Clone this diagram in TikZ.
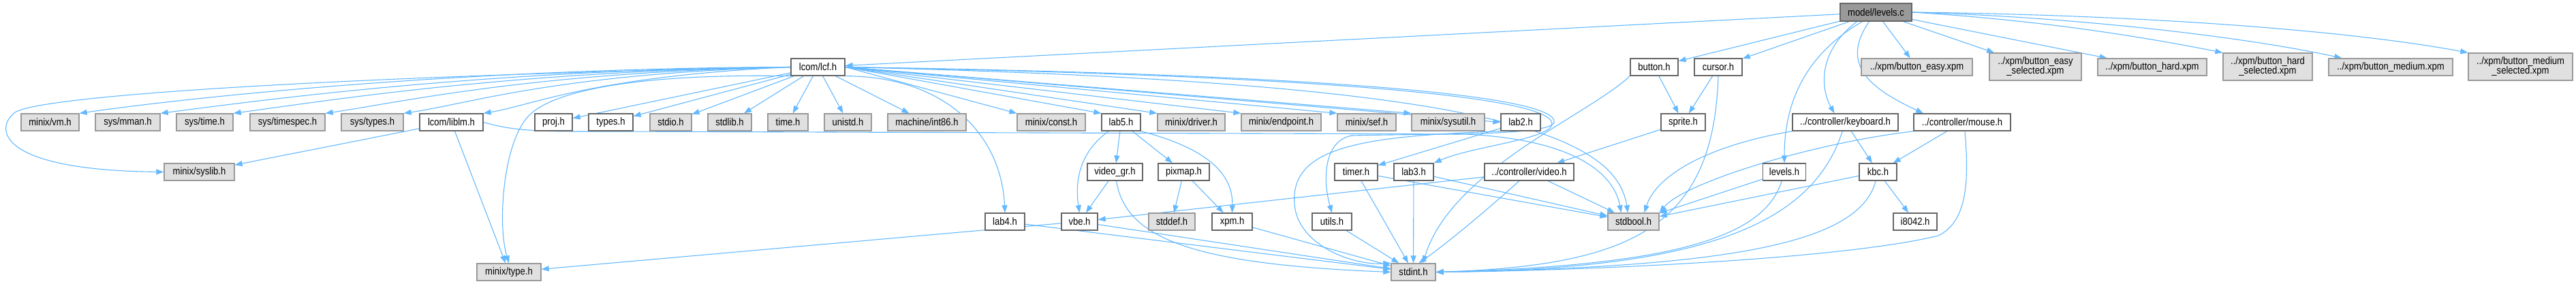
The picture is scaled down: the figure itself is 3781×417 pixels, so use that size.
\documentclass[tikz,border=0pt]{standalone}
\usepackage{fontspec}
\setmainfont{Liberation Sans}[FakeStretch=0.87]
\usetikzlibrary{arrows.meta}
\definecolor{edgec}{HTML}{63B8FF}
\definecolor{grayfill}{HTML}{E0E0E0}
\definecolor{grayline}{HTML}{999999}
\definecolor{darkline}{HTML}{666666}
\definecolor{rootfill}{HTML}{999999}
\pgfdeclarelayer{background}
\pgfsetlayers{background,main}
\newcommand{\lblfont}{\fontsize{15}{14}\selectfont}
\tikzset{
  box/.style={rectangle, inner sep=0pt, minimum height=25pt, line width=1.3pt, align=center, font=\lblfont},
  wb/.style={box, draw=darkline, fill=white},
  gb/.style={box, draw=grayline, fill=grayfill},
  rb/.style={box, draw=darkline, fill=rootfill, minimum height=26pt},
  dep/.style={draw=edgec, line width=1.1pt, -{Triangle[length=11pt,width=8pt]}},
}
\begin{document}
\begin{tikzpicture}[x=1pt,y=-1pt]
\useasboundingbox (0,0) rectangle (3781,417);
% rank 0
\node[rb, minimum width=105pt] (root) at (2753.5,18) {model/levels.c};
% rank 1
\node[wb, minimum width=79pt] (lcf) at (1200.5,98.5) {lcom/lcf.h};
\node[wb, minimum width=70pt] (button) at (2428,98.5) {button.h};
\node[wb, minimum width=70pt] (cursor) at (2522,98.5) {cursor.h};
\node[gb, minimum width=163pt] (easy) at (2813.5,98.5) {../xpm/button\_easy.xpm};
\node[gb, minimum width=135pt, minimum height=40pt] (easysel) at (2987.5,98) {../xpm/button\_easy\\\_selected.xpm};
\node[gb, minimum width=160pt] (hard) at (3159,98.5) {../xpm/button\_hard.xpm};
\node[gb, minimum width=131pt, minimum height=40pt] (hardsel) at (3328.5,98) {../xpm/button\_hard\\\_selected.xpm};
\node[gb, minimum width=182pt] (medium) at (3509,98.5) {../xpm/button\_medium.xpm};
\node[gb, minimum width=153pt, minimum height=40pt] (medsel) at (3699.5,98) {../xpm/button\_medium\\\_selected.xpm};
% rank 2
\node[gb, minimum width=85pt] (vm) at (73.5,179.5) {minix/vm.h};
\node[gb, minimum width=95pt] (mman) at (187.5,179.5) {sys/mman.h};
\node[gb, minimum width=83pt] (systime) at (300.5,179.5) {sys/time.h};
\node[gb, minimum width=110pt] (timespec) at (422,179.5) {sys/timespec.h};
\node[gb, minimum width=91pt] (systypes) at (546.5,179.5) {sys/types.h};
\node[wb, minimum width=93pt] (liblm) at (662.5,179.5) {lcom/liblm.h};
\node[wb, minimum width=55pt] (proj) at (812.5,179.5) {proj.h};
\node[wb, minimum width=65pt] (types) at (896.5,179.5) {types.h};
\node[gb, minimum width=61pt] (stdio) at (984.5,179.5) {stdio.h};
\node[gb, minimum width=64pt] (stdlib) at (1071,179.5) {stdlib.h};
\node[gb, minimum width=59pt] (time) at (1156.5,179.5) {time.h};
\node[gb, minimum width=69pt] (unistd) at (1244.5,179.5) {unistd.h};
\node[gb, minimum width=115pt] (int86) at (1360.5,179.5) {machine/int86.h};
\node[gb, minimum width=100pt] (const) at (1543,179.5) {minix/const.h};
\node[wb, minimum width=57pt] (lab5) at (1645.5,179.5) {lab5.h};
\node[gb, minimum width=99pt] (driver) at (1748.5,179.5) {minix/driver.h};
\node[gb, minimum width=117pt] (endpoint) at (1880.5,179.5) {minix/endpoint.h};
\node[gb, minimum width=86pt] (sef) at (2006,179.5) {minix/sef.h};
\node[gb, minimum width=107pt] (sysutil) at (2125.5,179.5) {minix/sysutil.h};
\node[wb, minimum width=58pt] (lab2) at (2232,179.5) {lab2.h};
\node[wb, minimum width=65pt] (sprite) at (2470.5,179.5) {sprite.h};
\node[wb, minimum width=155pt] (kbd) at (2708.5,179.5) {../controller/keyboard.h};
\node[wb, minimum width=142pt] (mouse) at (2880,179.5) {../controller/mouse.h};
% rank 3
\node[gb, minimum width=103pt] (syslib) at (292.5,252.5) {minix/syslib.h};
\node[wb, minimum width=81pt] (videogr) at (1636.5,252.5) {video\_gr.h};
\node[wb, minimum width=75pt] (pixmap) at (1737.5,252.5) {pixmap.h};
\node[wb, minimum width=63pt] (timer) at (1990.5,252.5) {timer.h};
\node[wb, minimum width=58pt] (lab3) at (2075,252.5) {lab3.h};
\node[wb, minimum width=131pt] (vid) at (2244.5,252.5) {../controller/video.h};
\node[wb, minimum width=63pt] (lvh) at (2619,252.5) {levels.h};
\node[wb, minimum width=55pt] (kbc) at (2756.5,252.5) {kbc.h};
% rank 4
\node[wb, minimum width=58pt] (lab4) at (1475,325.5) {lab4.h};
\node[wb, minimum width=53pt] (vbe) at (1584.5,325.5) {vbe.h};
\node[gb, minimum width=68pt] (stddef) at (1720,325.5) {stddef.h};
\node[wb, minimum width=59pt] (xpm) at (1808.5,325.5) {xpm.h};
\node[wb, minimum width=58pt] (utils) at (1955,325.5) {utils.h};
\node[gb, minimum width=75pt] (stdbool) at (2397.5,325.5) {stdbool.h};
\node[wb, minimum width=64pt] (i8042) at (2811,325.5) {i8042.h};
% rank 5
\node[gb, minimum width=94pt] (type) at (747,399.5) {minix/type.h};
\node[gb, minimum width=65pt] (stdint) at (2074.5,399.5) {stdint.h};

\begin{pgfonlayer}{background}
% from root
\draw[dep] (root) -- (lcf);
\draw[dep] (root) -- (button);
\draw[dep] (root) -- (cursor);
\draw[dep] (root) -- (easy);
\draw[dep] (root) -- (easysel);
\draw[dep] (root) -- (hard);
\draw[dep] (root.east) .. controls (3000,30) and (3150,55) .. (hardsel.north west);
\draw[dep] (root.east) .. controls (3050,25) and (3300,55) .. ([xshift=20pt]medium.north west);
\draw[dep] (root.east) .. controls (3150,22) and (3450,45) .. (medsel.north west);
\draw[dep] ([xshift=-20pt]root.south) .. controls (2650,80) and (2619,150) .. (lvh.north);
\draw[dep] ([xshift=-28pt]root.south) .. controls (2668,75) and (2672,130) .. ([xshift=-16pt]kbd.north);
\draw[dep] ([xshift=-10pt]root.south) .. controls (2700,95) and (2745,130) .. ([xshift=-57pt]mouse.north);
% from lcf
\draw[dep] (lcf.west) .. controls (700,100) and (300,140) .. (vm.north east);
\draw[dep] (lcf.west) .. controls (720,102) and (400,145) .. (mman.north east);
\draw[dep] (lcf.west) .. controls (750,104) and (480,148) .. (systime.north east);
\draw[dep] (lcf.west) .. controls (780,106) and (590,150) .. (timespec.north east);
\draw[dep] (lcf.west) .. controls (820,108) and (690,152) .. (systypes.north east);
\draw[dep] (lcf.west) .. controls (870,112) and (780,155) .. (liblm.north east);
\draw[dep] (lcf.west) .. controls (500,112) and (60,140) .. (22,165) .. controls (-10,190) and (0,250) .. (syslib.west);
\draw[dep] (lcf.south west) .. controls (950,108) and (815,130) .. (776,170) .. controls (738,210) and (730,330) .. (type.north);
\draw[dep] (lcf) -- (proj);
\draw[dep] (lcf) -- (types);
\draw[dep] (lcf) -- (stdio);
\draw[dep] (lcf) -- (stdlib);
\draw[dep] (lcf) -- (time);
\draw[dep] (lcf) -- (unistd);
\draw[dep] (lcf) -- (int86);
\draw[dep] (lcf.south east) .. controls (1390,112) and (1470,200) .. (lab4.north);
\draw[dep] (lcf.east) -- (const.north west);
\draw[dep] (lcf.east) -- (lab5.north west);
\draw[dep] (lcf.east) -- (driver.north west);
\draw[dep] (lcf.east) -- (endpoint.north west);
\draw[dep] (lcf.east) -- (sef.north west);
\draw[dep] (lcf.east) -- (sysutil.north west);
\draw[dep] (lcf.east) -- (lab2.west);
\draw[dep] (lcf.east) .. controls (1900,110) and (2285,140) .. (2278,183) .. controls (2272,205) and (2160,215) .. (lab3.north east);
\draw[dep] (lcf.east) .. controls (1900,108) and (2290,138) .. (2281,180) .. controls (2272,200) and (2100,196) .. (1985,199) .. controls (1945,205) and (1940,260) .. (utils.north);
\draw[dep] (lcf.east) .. controls (2150,120) and (2370,190) .. ([xshift=-8pt]stdbool.north);
% from liblm
\draw[dep] (liblm) -- (syslib);
\draw[dep] (liblm) -- (type);
\draw[dep] (liblm.east) .. controls (760,194) and (800,193) .. (900,193) -- (2150,197) .. controls (2320,205) and (2370,260) .. ([xshift=-18pt]stdbool.north);
% lab5 family
\draw[dep] (lab5) .. controls (1582,225) and (1578,270) .. (vbe.north);
\draw[dep] (lab5) -- (videogr);
\draw[dep] (lab5) -- (pixmap);
\draw[dep] (lab5.south east) .. controls (1780,220) and (1810,260) .. (xpm.north);
\draw[dep] (videogr) -- (vbe);
\draw[dep] (videogr) .. controls (1652,350) and (1750,388) .. (stdint.west);
\draw[dep] (pixmap) -- (stddef);
\draw[dep] (pixmap) -- (xpm);
\draw[dep] (lab4) -- (stdint);
\draw[dep] (vbe) -- (stdint);
\draw[dep] (vbe) -- (type);
\draw[dep] (xpm) -- (stdint);
% lab2 / lab3 / timer / utils
\draw[dep] (lab2) -- (timer);
\draw[dep] (lab2.south west) .. controls (2000,200) and (1893,215) .. (1900,300) .. controls (1905,360) and (1985,390) .. (stdint.north west);
\draw[dep] (timer) -- (stdint);
\draw[dep] (timer) -- (stdbool);
\draw[dep] (lab3) -- (stdint);
\draw[dep] (lab3) -- (stdbool);
\draw[dep] (utils) -- (stdint);
% controller video
\draw[dep] (vid) -- (vbe);
\draw[dep] (vid) -- (stdbool);
\draw[dep] (vid) .. controls (2175,315) and (2120,360) .. ([xshift=8pt]stdint.north);
% sprite, button, cursor
\draw[dep] (sprite) -- (vid);
\draw[dep] (button) -- (sprite);
\draw[dep] (cursor) -- (sprite);
\draw[dep] (button.south west) .. controls (2330,170) and (2130,250) .. ([xshift=14pt]stdint.north);
\draw[dep] (cursor.south) .. controls (2515,330) and (2400,390) .. (stdint.east);
% keyboard, mouse, kbc, levels.h
\draw[dep] (kbd) -- (kbc);
\draw[dep] (mouse) -- (kbc);
\draw[dep] (kbc) -- (i8042);
\draw[dep] (kbd.south west) .. controls (2500,215) and (2430,260) .. ([xshift=16pt]stdbool.north);
\draw[dep] (mouse.south west) .. controls (2650,212) and (2470,270) .. (stdbool.north east);
\draw[dep] (lvh) -- (stdbool);
\draw[dep] (kbc) -- (stdbool);
\draw[dep] (kbd) .. controls (2660,330) and (2500,395) .. (stdint.east);
\draw[dep] ([xshift=4pt]mouse.south) .. controls (2890,265) and (2888,325) .. (2845,346) .. controls (2700,382) and (2300,398) .. (stdint.east);
\draw[dep] (lvh) .. controls (2590,350) and (2450,390) .. (stdint.east);
\draw[dep] (kbc) .. controls (2730,355) and (2550,392) .. (stdint.east);
\end{pgfonlayer}
\end{tikzpicture}
\end{document}
